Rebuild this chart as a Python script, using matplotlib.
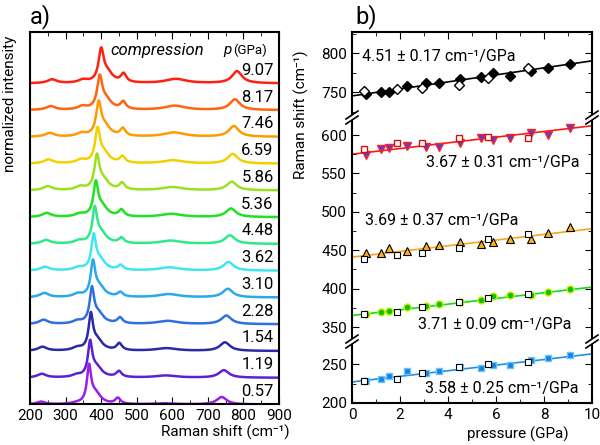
import numpy as np
import matplotlib.pyplot as plt
from matplotlib.lines import Line2D
from matplotlib.ticker import MultipleLocator

plt.rcParams['font.family'] = ['Roboto', 'DejaVu Sans']
plt.rcParams['font.size'] = 11

# pressures (GPa): compression (filled) and decompression (open)
p_comp = [0.57, 1.19, 1.54, 2.28, 3.10, 3.62, 4.48, 5.36, 5.86, 6.59, 7.46, 8.17, 9.07]
p_dec = [0.50, 1.86, 2.90, 4.45, 5.67, 7.33]
p_labels = ['0.57', '1.19', '1.54', '2.28', '3.10', '3.62', '4.48',
            '5.36', '5.86', '6.59', '7.46', '8.17', '9.07']

# mode positions (cm-1)
black_comp = [747, 749.6, 750.4, 757.7, 761, 761, 766.7, 769.6, 774, 771, 777, 781, 786]
black_dec = [751.5, 754, 755.6, 759, 768.4, 781]
red_comp = [574, 582, 583, 585.7, 585, 585, 589.6, 595.7, 593.5, 595.7, 603, 600, 608.7]
red_dec = [581.4, 589, 589, 596.5, 598, 595.7]
orange_comp = [446, 447, 453.5, 449, 455.6, 457, 460.8, 457.8, 460.8, 464, 465, 472, 480.8]
orange_dec = [439, 443.5, 447, 453.5, 464, 470.8]
green_comp = [367, 369.7, 371.4, 375.7, 377, 380, 382, 384.8, 390, 391.3, 392, 395.2, 399.6]
green_dec = [367, 369.7, 375.7, 382.2, 388, 393.5]
blue_comp = [228.2, 230.8, 234.6, 241, 238.9, 241, 246, 245.3, 248.7, 248.7, 255, 257.3, 261.5]
blue_dec = [228, 230.8, 238, 245.7, 249.6, 252]

# band positions as seen in the spectra of panel a (cm-1)
spec_main = [366, 369, 371, 374, 377, 379, 382, 385, 388, 390, 393, 396, 400]
spec_m1 = [231, 233, 235, 238, 240, 242, 245, 247, 250, 252, 255, 258, 262]
spec_330 = [330, 331, 332, 333, 334, 336, 338, 340, 341, 343, 345, 347, 349]
spec_m3 = [447, 450, 451, 453, 454, 455, 457, 457, 459, 460, 461, 462, 463]
spec_m4 = [578, 582, 584, 587, 590, 592, 595, 597, 600, 602, 605, 607, 610]
spec_m5 = [739, 745, 748, 752, 756, 758, 762, 765, 767, 770, 773, 776, 782]

# fit lines: value at 0 and 10 GPa
fit_black = [745, 790]
fit_red = [575, 612]
fit_orange = [441, 478]
fit_green = [365, 402]
fit_blue = [227, 263]
rates = ['4.51 ± 0.17', '3.67 ± 0.31', '3.69 ± 0.37', '3.71 ± 0.09', '3.58 ± 0.25']

# peak heights in the stacked spectra (offset units)
h_main = [1.32, 1.22, 1.25, 1.22, 1.22, 1.2, 1.22, 1.18, 1.18, 1.18, 1.17, 1.14, 1.15]
h_m1 = [0.10, 0.14, 0.15, 0.16, 0.16, 0.14, 0.14, 0.15, 0.15, 0.15, 0.14, 0.14, 0.14]
h_330 = [0.03, 0.08, 0.10, 0.10, 0.11, 0.10, 0.10, 0.10, 0.12, 0.12, 0.12, 0.12, 0.11]
h_m3 = [0.22, 0.22, 0.26, 0.22, 0.17, 0.18, 0.20, 0.25, 0.25, 0.24, 0.28, 0.28, 0.32]
h_m4 = [0.04, 0.08, 0.10, 0.12, 0.12, 0.12, 0.12, 0.12, 0.12, 0.12, 0.16, 0.16, 0.16]
h_m5 = [0.28, 0.28, 0.32, 0.32, 0.32, 0.32, 0.32, 0.32, 0.32, 0.36, 0.40, 0.40, 0.45]

spec_colors = ['#9B1FE8', '#5B21D6', '#2A2AA8', '#2F6FE0', '#29A8EA', '#3FE6F0', '#2EE88A',
               '#22E022', '#9BE21E', '#F5D000', '#FF9A00', '#FF6410', '#FF2010']


def lor(x, c, h, w):
    return h / (1 + ((x - c) / w) ** 2)


fig = plt.figure(figsize=(6, 4.45), dpi=100)

# ---- a) spectra
axa = fig.add_axes([0.05, 0.0921, 0.415, 0.836])
x = np.arange(200, 901, 0.5)
for i in range(len(p_comp) - 1, -1, -1):
    y = (lor(x, spec_m1[i], h_m1[i], 15) + lor(x, spec_330[i], h_330[i], 15)
         + lor(x, spec_main[i], h_main[i], 7 + 0.15 * i)
         + lor(x, spec_main[i] + 18, 0.3 * h_main[i], 18)
         + lor(x, spec_m3[i], h_m3[i], 9) + lor(x, spec_m4[i], h_m4[i], 35)
         + lor(x, spec_m5[i], h_m5[i], 17))
    axa.plot(x, y + i - 0.04, color=spec_colors[i], lw=1.8)
    axa.text(885, i + 0.45, p_labels[i], ha='right', va='center', fontsize=12)

axa.set_xlim(200, 900)
axa.set_ylim(-0.02, 13.88)
axa.set_yticks([])
axa.xaxis.set_major_locator(MultipleLocator(100))
axa.xaxis.set_minor_locator(MultipleLocator(50))
axa.tick_params(axis='x', which='both', direction='in', top=True, labelsize=11)
axa.tick_params(axis='x', which='major', length=5)
axa.tick_params(axis='x', which='minor', length=3)
for s in axa.spines.values():
    s.set_linewidth(1.5)
axa.text(558, 13.17, 'compression', style='italic', ha='center', va='center', fontsize=12)
axa.text(743, 13.2, 'p', style='italic', ha='left', va='center', fontsize=11)
axa.text(770, 13.2, '(GPa)', ha='left', va='center', fontsize=9.5)

fig.text(225 / 600, 1 - 432 / 445, 'Raman shift (cm⁻¹)', ha='center', va='center', fontsize=11)
fig.text(10 / 600, 1 - 104 / 445, 'normalized intensity', rotation=90, ha='center', va='center', fontsize=11)
fig.text(40 / 600, 1 - 17 / 445, 'a)', ha='center', va='center', fontsize=17)
fig.text(366 / 600, 1 - 17 / 445, 'b)', ha='center', va='center', fontsize=17)

# ---- b) broken axis
ax_top = fig.add_axes([0.5867, 0.7438, 0.4, 0.1843])
ax_mid = fig.add_axes([0.5867, 0.2404, 0.4, 0.4876])
ax_bot = fig.add_axes([0.5867, 0.0944, 0.4, 0.1303])
ax_top.set_ylim(721.8, 827)
ax_mid.set_ylim(335.7, 618.2)
ax_bot.set_ylim(200, 274.4)

pp = [0, 10]
ax_top.plot(pp, fit_black, color='black', lw=1.2, zorder=1)
ax_top.plot(p_comp, black_comp, 'D', ms=5, mfc='black', mec='black')
ax_top.plot(p_dec, black_dec, 'D', ms=5, mfc='white', mec='black')

ax_mid.plot(pp, fit_red, color='#FF1A1A', lw=1.2, zorder=1)
ax_mid.plot(p_comp, red_comp, 'v', ms=5.5, mfc='#5A3FD0', mec='#FF2020')
ax_mid.plot(p_dec, red_dec, 's', ms=5, mfc='white', mec='#D01010')
ax_mid.plot(pp, fit_orange, color='#F5A623', lw=1.2, zorder=1)
ax_mid.plot(p_comp, orange_comp, '^', ms=5.5, mfc='#FFB020', mec='black', mew=0.8)
ax_mid.plot(p_dec, orange_dec, 's', ms=5, mfc='white', mec='black', mew=0.8)
ax_mid.plot(pp, fit_green, color='#10E010', lw=1.2, zorder=1)
ax_mid.plot(p_comp, green_comp, 'o', ms=5, mfc='#10C010', mec='#C8F000')
ax_mid.plot(p_dec, green_dec, 's', ms=5, mfc='white', mec='black', mew=0.8)

ax_bot.plot(pp, fit_blue, color='#1E90E8', lw=1.2, zorder=1)
ax_bot.plot(p_comp, blue_comp, 's', ms=5, mfc='#1E7FD8', mec='#60C8FF')
ax_bot.plot(p_dec, blue_dec, 's', ms=5, mfc='white', mec='black', mew=0.8)

for ax in (ax_top, ax_mid, ax_bot):
    ax.set_xlim(0, 10)
    ax.yaxis.set_major_locator(MultipleLocator(50))
    ax.yaxis.set_minor_locator(MultipleLocator(25))
    ax.xaxis.set_major_locator(MultipleLocator(2))
    ax.xaxis.set_minor_locator(MultipleLocator(1))
    ax.tick_params(which='both', direction='in', right=True, labelsize=11)
    ax.tick_params(which='major', length=5)
    ax.tick_params(which='minor', length=3)
    for s in ax.spines.values():
        s.set_linewidth(1.5)
ax_top.spines['bottom'].set_visible(False)
ax_mid.spines['top'].set_visible(False)
ax_mid.spines['bottom'].set_visible(False)
ax_bot.spines['top'].set_visible(False)
ax_top.tick_params(axis='x', which='both', bottom=False, top=True, labelbottom=False)
ax_mid.tick_params(axis='x', which='both', bottom=False, labelbottom=False)

# break marks
for yb in (117.5, 341.5):
    for xb in (352, 592):
        for dy in (-2.5, 2.5):
            fig.add_artist(Line2D([(xb - 6) / 600, (xb + 6) / 600],
                                  [1 - (yb + dy + 4) / 445, 1 - (yb + dy - 4) / 445],
                                  color='black', lw=1.2))

rate_pos = [(362, 57), (426, 163), (365, 221), (418, 325), (425, 388)]
for r, (tx, ty) in zip(rates, rate_pos):
    fig.text(tx / 600, 1 - ty / 445, r + ' cm⁻¹/GPa', ha='left', va='center', fontsize=11.5)

fig.text(518 / 600, 1 - 434 / 445, 'pressure (GPa)', ha='center', va='center', fontsize=11)
fig.text(301 / 600, 1 - 115 / 445, 'Raman shift (cm⁻¹)', rotation=90, ha='center', va='center', fontsize=11)

fig.savefig('out.png', dpi=100)
